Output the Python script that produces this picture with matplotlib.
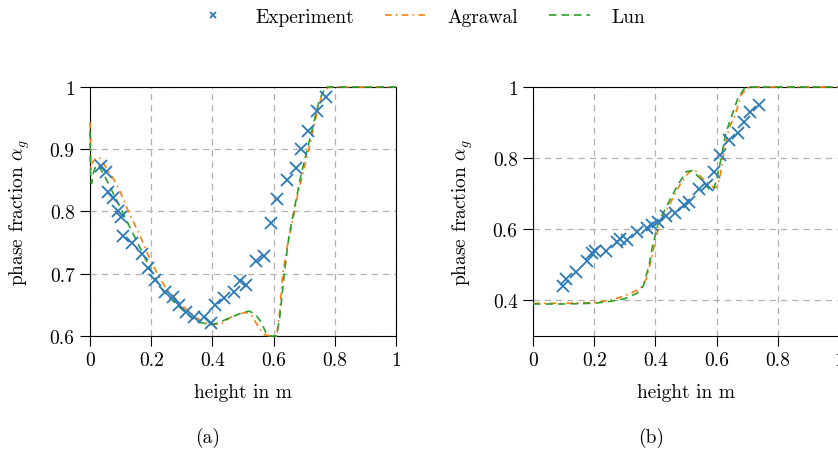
import matplotlib
matplotlib.use("Agg")
import matplotlib.pyplot as plt
from matplotlib.ticker import FuncFormatter

plt.rcParams["font.family"] = "serif"
plt.rcParams["font.serif"] = ["cmr10"]
plt.rcParams["mathtext.fontset"] = "cm"
plt.rcParams["axes.unicode_minus"] = False
plt.rcParams["font.size"] = 14

# --- panel (a) ---
exp_a_x = [0.035, 0.051, 0.060, 0.074, 0.090, 0.101, 0.109, 0.137, 0.169, 0.191,
           0.213, 0.246, 0.271, 0.292, 0.315, 0.341, 0.372, 0.396, 0.410, 0.439,
           0.470, 0.490, 0.510, 0.541, 0.568, 0.590, 0.610, 0.643, 0.672, 0.689,
           0.713, 0.741, 0.770]
exp_a_y = [0.873, 0.863, 0.831, 0.822, 0.800, 0.791, 0.760, 0.750, 0.732, 0.710,
           0.690, 0.670, 0.662, 0.650, 0.639, 0.631, 0.631, 0.621, 0.650, 0.661,
           0.670, 0.689, 0.682, 0.721, 0.729, 0.781, 0.820, 0.850, 0.870, 0.901,
           0.930, 0.961, 0.984]

agr_a_x = [0, 0.003, 0.01, 0.02, 0.03, 0.04, 0.06, 0.08, 0.1, 0.13, 0.16, 0.19,
           0.22, 0.25, 0.28, 0.31, 0.34, 0.37, 0.40, 0.43, 0.46, 0.49, 0.51, 0.53,
           0.55, 0.57, 0.59, 0.60, 0.61, 0.62, 0.63, 0.645, 0.66, 0.68, 0.70, 0.72,
           0.74, 0.76, 0.78, 0.80, 1.0]
agr_a_y = [0.944, 0.87, 0.88, 0.886, 0.887, 0.88, 0.865, 0.85, 0.83, 0.795, 0.765,
           0.73, 0.70, 0.675, 0.66, 0.645, 0.632, 0.622, 0.618, 0.620, 0.630, 0.636,
           0.638, 0.632, 0.615, 0.602, 0.60, 0.60, 0.60, 0.64, 0.70, 0.745, 0.78,
           0.83, 0.87, 0.91, 0.955, 0.99, 1.0, 1.0, 1.0]

lun_a_x = [0, 0.002, 0.005, 0.01, 0.02, 0.03, 0.05, 0.07, 0.09, 0.12, 0.15, 0.18,
           0.21, 0.24, 0.27, 0.30, 0.33, 0.36, 0.39, 0.42, 0.45, 0.48, 0.50, 0.52,
           0.54, 0.56, 0.575, 0.585, 0.60, 0.61, 0.62, 0.635, 0.65, 0.67, 0.69,
           0.71, 0.73, 0.75, 0.77, 0.79, 1.0]
lun_a_y = [0.93, 0.86, 0.845, 0.86, 0.875, 0.872, 0.855, 0.835, 0.815, 0.785,
           0.755, 0.725, 0.695, 0.672, 0.657, 0.643, 0.630, 0.622, 0.618, 0.621,
           0.628, 0.634, 0.638, 0.640, 0.635, 0.622, 0.605, 0.6, 0.6, 0.6, 0.63,
           0.70, 0.76, 0.81, 0.86, 0.90, 0.94, 0.98, 1.0, 1.0, 1.0]

# --- panel (b) ---
exp_b_x = [0.098, 0.109, 0.139, 0.175, 0.193, 0.204, 0.237, 0.273, 0.284, 0.306,
           0.341, 0.372, 0.390, 0.409, 0.436, 0.464, 0.492, 0.510, 0.543, 0.570,
           0.590, 0.611, 0.642, 0.671, 0.691, 0.710, 0.740]
exp_b_y = [0.441, 0.460, 0.481, 0.512, 0.533, 0.540, 0.540, 0.563, 0.573, 0.571,
           0.592, 0.604, 0.612, 0.620, 0.638, 0.646, 0.669, 0.678, 0.712, 0.725,
           0.761, 0.809, 0.850, 0.870, 0.903, 0.931, 0.950]

agr_b_x = [0, 0.1, 0.2, 0.25, 0.30, 0.35, 0.37, 0.39, 0.40, 0.42, 0.45, 0.48,
           0.51, 0.53, 0.55, 0.59, 0.60, 0.61, 0.62, 0.64, 0.66, 0.68, 0.70, 0.72, 1.0]
agr_b_y = [0.392, 0.392, 0.394, 0.400, 0.413, 0.432, 0.46, 0.526, 0.573, 0.629,
           0.676, 0.725, 0.761, 0.765, 0.746, 0.718, 0.718, 0.742, 0.798, 0.883,
           0.92, 0.977, 0.997, 1.0, 1.0]

lun_b_x = [0, 0.1, 0.2, 0.25, 0.30, 0.34, 0.36, 0.38, 0.39, 0.41, 0.44, 0.47,
           0.50, 0.52, 0.55, 0.58, 0.59, 0.60, 0.615, 0.63, 0.65, 0.67, 0.69, 0.71, 1.0]
lun_b_y = [0.390, 0.390, 0.392, 0.397, 0.405, 0.42, 0.44, 0.50, 0.55, 0.62,
           0.67, 0.72, 0.762, 0.765, 0.74, 0.708, 0.712, 0.74, 0.80, 0.87,
           0.92, 0.97, 0.995, 1.0, 1.0]

xticks = [0, 0.2, 0.4, 0.6, 0.8, 1]
yticks_a = [0.6, 0.7, 0.8, 0.9, 1]
yticks_b = [0.4, 0.6, 0.8, 1]

blue = "#2a7ab9"
orange = "#ff7f0e"
green = "#2ca02c"


def fmt(v, pos):
    return "%g" % round(v, 3)


fig = plt.figure(figsize=(8.38, 4.52), dpi=100)
ax_a = fig.add_axes([90 / 838, 115 / 452, 306 / 838, 249 / 452])
ax_b = fig.add_axes([533 / 838, 115 / 452, 306 / 838, 249 / 452])

panels = [
    (ax_a, exp_a_x, exp_a_y, agr_a_x, agr_a_y, lun_a_x, lun_a_y, (0.6, 1), yticks_a),
    (ax_b, exp_b_x, exp_b_y, agr_b_x, agr_b_y, lun_b_x, lun_b_y, (0.3, 1), yticks_b),
]

for ax, ex, ey, ax_x, ay, lx, ly, ylim, yt in panels:
    ax.plot(ex, ey, "x", color=blue, markersize=8, markeredgewidth=1.3,
            label="Experiment", zorder=4)
    ax.plot(ax_x, ay, color=orange, lw=1.2, dashes=(4, 2.5, 1, 2.5),
            label="Agrawal", zorder=3, clip_on=False)
    ax.plot(lx, ly, color=green, lw=1.2, dashes=(4.5, 3),
            label="Lun", zorder=3, clip_on=False)
    ax.set_xlim(0, 1)
    ax.set_ylim(*ylim)
    ax.set_xticks(xticks)
    ax.set_yticks(yt)
    ax.xaxis.set_major_formatter(FuncFormatter(fmt))
    ax.yaxis.set_major_formatter(FuncFormatter(fmt))
    ax.grid(True, color="#b0b0b0", lw=0.9, dashes=(5, 4))
    ax.set_axisbelow(True)
    ax.tick_params(direction="out", length=7, width=0.8, pad=4, labelsize=14)
    for s in ax.spines.values():
        s.set_linewidth(0.8)
        s.set_color("black")
    ax.set_xlabel("height in m", fontsize=14)
    ax.set_ylabel(r"phase fraction $\alpha_g$", fontsize=14)
    ax.xaxis.set_label_coords(0.5, -0.19)
    ax.yaxis.set_label_coords(-0.19, 0.5)

handles, labels = ax_a.get_legend_handles_labels()
fig.legend(handles, labels, loc="center", bbox_to_anchor=(0.5, 1 - 18 / 452),
           ncol=3, frameon=False, fontsize=14, markerscale=0.6,
           handlelength=2.1, columnspacing=1.6, handletextpad=1.1)

fig.text(208 / 838, 1 - 438 / 452, "(a)", ha="center", va="center", fontsize=14)
fig.text(651 / 838, 1 - 438 / 452, "(b)", ha="center", va="center", fontsize=14)

fig.savefig("out.png", dpi=100)
